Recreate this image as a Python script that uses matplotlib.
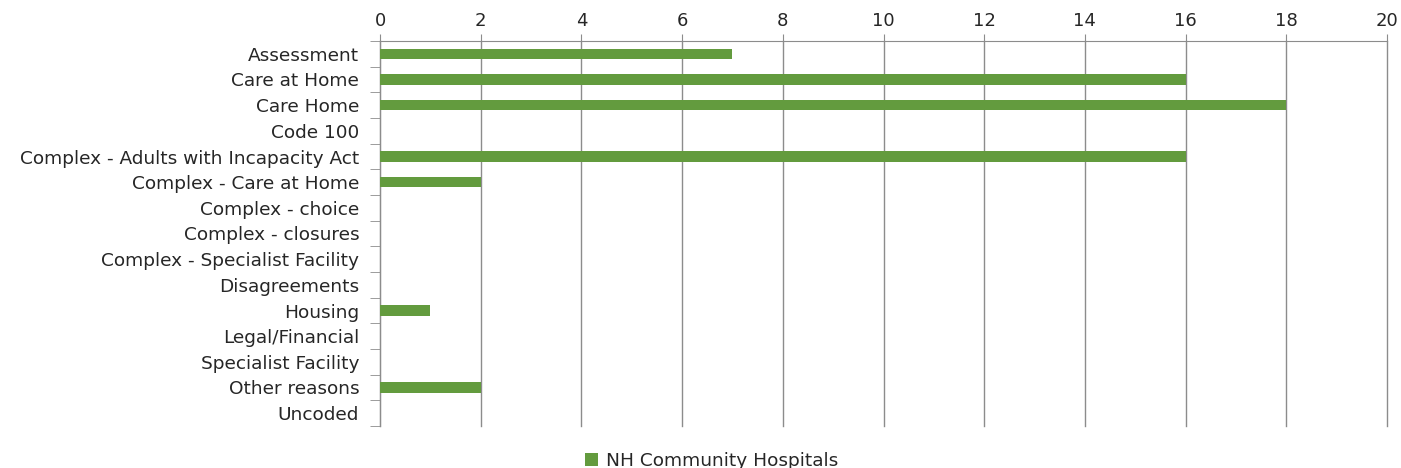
import matplotlib.pyplot as plt
import numpy as np

categories = [
    "Assessment", "Care at Home", "Care Home", "Code 100",
    "Complex - Adults with Incapacity Act", "Complex - Care at Home",
    "Complex - choice", "Complex - closures", "Complex - Specialist Facility",
    "Disagreements", "Housing", "Legal/Financial", "Specialist Facility",
    "Other reasons", "Uncoded",
]
nh_community = [7, 16, 18, 0, 16, 2, 0, 0, 0, 0, 1, 0, 0, 2, 0]
series_name = "NH Community Hospitals"

plt.rcParams['font.family'] = ['DejaVu Sans']
plt.rcParams['text.color'] = '#262626'
plt.rcParams['xtick.labelcolor'] = '#262626'
plt.rcParams['ytick.labelcolor'] = '#262626'

fig = plt.figure(figsize=(14.01, 4.68), dpi=100)
ax = fig.add_axes([380 / 1401, 1 - 426 / 468, 1007 / 1401, 385 / 468])

y = np.arange(len(categories))
ax.barh(y, nh_community, height=0.4, color='#639b3e', label=series_name, zorder=3)

ax.set_xlim(0, 20)
ax.set_ylim(len(categories) - 0.5, -0.5)
ax.set_xticks(np.arange(0, 21, 2))
ax.xaxis.tick_top()
ax.tick_params(axis='x', length=5, color='#8c8c8c', labelsize=13, pad=3)
ax.grid(axis='x', color='#8c8c8c', linewidth=1, zorder=0)
for line in ax.xaxis.get_gridlines():
    line.set_clip_on(False)

ax.set_yticks(y)
ax.set_yticklabels(categories, fontsize=13.3)
ax.set_yticks(np.arange(len(categories) + 1) - 0.5, minor=True)
ax.tick_params(axis='y', which='major', length=0, pad=15)
ax.tick_params(axis='y', which='minor', length=7, color='#8c8c8c')

for side in ['right', 'bottom']:
    ax.spines[side].set_visible(False)
for side in ['top', 'left']:
    ax.spines[side].set_color('#8c8c8c')

fig.legend(loc='lower center', bbox_to_anchor=(0.508, -0.04), frameon=False,
           fontsize=13.3, handlelength=0.7, handleheight=0.7, handletextpad=0.4)

fig.savefig('out.png', dpi=100)
